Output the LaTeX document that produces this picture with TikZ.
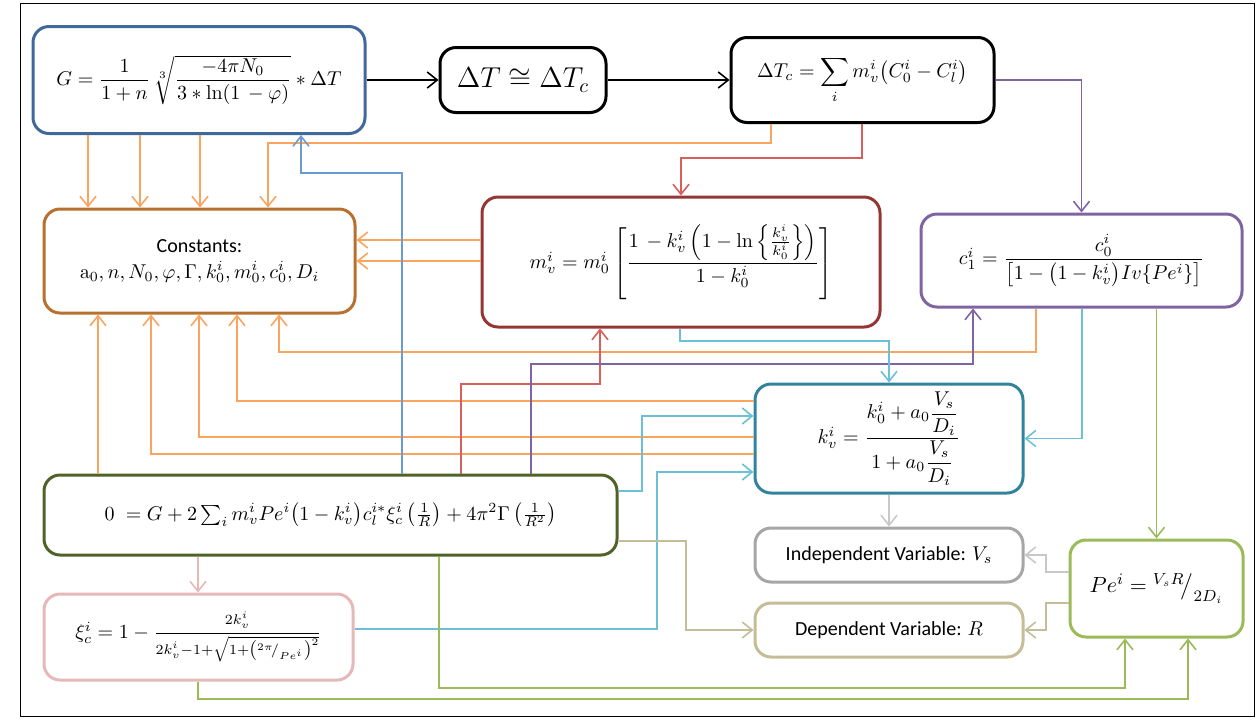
\documentclass[tikz,border=0pt]{standalone}
\usepackage[no-math]{fontspec}
\setmainfont{Carlito}
\usepackage{amsmath,amssymb}
\usetikzlibrary{arrows.meta}
\definecolor{gblue}{HTML}{41689B}
\definecolor{cbrown}{HTML}{B8702F}
\definecolor{mred}{HTML}{943634}
\definecolor{cpurple}{HTML}{8064A2}
\definecolor{kteal}{HTML}{31849B}
\definecolor{zolive}{HTML}{4F6228}
\definecolor{xpink}{HTML}{E6B9B8}
\definecolor{igray}{HTML}{A6A6A6}
\definecolor{dkhaki}{HTML}{C4BD97}
\definecolor{pgreen}{HTML}{9BBB59}
\definecolor{lorange}{HTML}{F9A560}
\definecolor{lblue}{HTML}{6E9AD3}
\definecolor{lred}{HTML}{D75F5C}
\definecolor{lteal}{HTML}{6BC0D8}
\definecolor{lgray}{HTML}{C8C8C8}
\tikzset{
  eqbox/.style={draw=#1,line width=1.5pt,rounded corners=8pt,fill=white,align=center,inner sep=0pt},
  wire/.style={draw=#1,line width=.8pt,->},
  >={Straight Barb[length=5pt,width=8pt]}
}

\begin{document}
\begin{tikzpicture}[x=0.5pt,y=-0.5pt]
  \useasboundingbox (0,0) rectangle (1257,719);
  \draw[line width=.5pt] (20,3) rectangle (1254,716);

  % boxes
  \node[eqbox=gblue,minimum width=166pt,minimum height=53.5pt] (g) at (199,80)
    {$G=\dfrac{1}{1+n}\,\sqrt[3]{\dfrac{-4\pi N_0}{3\ast\ln(1\,-\varphi)}}\ast\Delta T$};
  \node[eqbox=black,minimum width=83pt,minimum height=32.5pt] (dt) at (523,80)
    {\fontsize{14.5}{17}\selectfont$\Delta T\cong\Delta T_c$};
  \node[eqbox=black,minimum width=131.5pt,minimum height=42.5pt] (dtc) at (862.5,80)
    {$\displaystyle\Delta T_c=\sum_i m_v^i\bigl(C_0^i-C_l^i\bigr)$};
  \node[eqbox=cbrown,minimum width=155.5pt,minimum height=52pt] (cst) at (199.5,261)
    {Constants:\\[1pt] $\mathrm{a}_0,n,N_0,\varphi,\Gamma,k_0^i,m_0^i,c_0^i,D_i$};
  \node[eqbox=mred,minimum width=199pt,minimum height=65pt] (mv) at (681,262)
    {$m_v^i=m_0^i\left[\dfrac{1\,-k_v^i\left(1-\ln\left\{\frac{k_v^i}{k_0^i}\right\}\right)}{1-k_0^i}\right]$};
  \node[eqbox=cpurple,minimum width=160.5pt,minimum height=46.5pt] (c1) at (1081.5,260.5)
    {$c_1^i=\dfrac{c_0^i}{\bigl[1-\bigl(1-k_v^i\bigr)Iv\{Pe^i\}\bigr]}$};
  \node[eqbox=kteal,minimum width=134pt,minimum height=54.5pt] (kv) at (889,438.5)
    {$k_v^i=\dfrac{k_0^i+a_0\dfrac{V_s}{D_i}}{1+a_0\dfrac{V_s}{D_i}}$};
  \node[eqbox=zolive,minimum width=286.5pt,minimum height=40pt] (zero) at (330.5,515)
    {$0\;=G+2\sum_i m_v^iPe^i\bigl(1-k_v^i\bigr)c_l^{i*}\xi_c^i\left(\frac{1}{R}\right)+4\pi^2\Gamma\left(\frac{1}{R^2}\right)$};
  \node[eqbox=xpink,minimum width=154.5pt,minimum height=43pt] (xi) at (198.5,637)
    {$\xi_c^i=1-\dfrac{\scriptstyle 2k_v^i}{\scriptstyle 2k_v^i-1+\sqrt{1+\left({}^{2\pi}\!/_{Pe^i}\right)^2}}$};
  \node[eqbox=igray,minimum width=134pt,minimum height=27pt] (ind) at (889,555)
    {Independent Variable: $V_s$};
  \node[eqbox=dkhaki,minimum width=134pt,minimum height=27pt] (dep) at (889,630)
    {Dependent Variable: $R$};
  \node[eqbox=pgreen,minimum width=86.5pt,minimum height=48.5pt] (pe) at (1156.5,588.5)
    {\fontsize{11}{13}\selectfont$Pe^i={}^{V_sR}\!\big/_{2D_i}$};

  % top row
  \draw[wire=black] (g.east) -- (dt.west);
  \draw[wire=black] (dt.east) -- (dtc.west);
  \draw[wire=cpurple] (dtc.east) -| (c1.north);
  \draw[wire=lorange] (dtc.south -| 771,0) -- (771,143) -| (cst.north -| 268,0);
  \draw[wire=lred] (dtc.south -| 862,0) -- (862,158) -| (mv.north);
  \foreach \cx in {88,140,200}
    \draw[wire=lorange] (g.south -| \cx,0) -- (cst.north -| \cx,0);
  \foreach \cy in {240,261}
    \draw[wire=lorange] (mv.west |- 0,\cy) -- (cst.east |- 0,\cy);

  % into constants from below
  \draw[wire=lorange] (zero.north -| 98,0) -- (cst.south -| 98,0);
  \draw[wire=lorange] (kv.west |- 0,401) -| (cst.south -| 237,0);
  \draw[wire=lorange] (kv.west |- 0,437) -| (cst.south -| 199,0);
  \draw[wire=lorange] (kv.west |- 0,454) -| (cst.south -| 151,0);
  \draw[wire=lorange] (c1.south -| 1036,0) -- (1036,352) -| (cst.south -| 279,0);

  % from the balance equation
  \draw[wire=lblue] (zero.north -| 402,0) -- (402,173) -| (g.south -| 301,0);
  \draw[wire=lred] (zero.north -| 461,0) -- (461,384) -| (mv.south -| 600,0);
  \draw[wire=cpurple] (zero.north -| 531,0) -- (531,364) -| (c1.south -| 973,0);
  \draw[wire=lteal] (zero.east |- 0,491) -- (642,491) |- (kv.west |- 0,416);
  \draw[wire=lteal] (xi.east |- 0,629) -- (657,629) |- (kv.west |- 0,472);
  \draw[wire=lteal] (mv.south -| 680,0) -- (680,341) -| (kv.north);
  \draw[wire=lteal] (c1.south -| 1082,0) |- (kv.east);
  \draw[wire=xpink] (zero.south -| 198,0) -- (xi.north -| 198,0);
  \draw[wire=dkhaki] (zero.east |- 0,541) -- (686,541) |- (dep.west);
  \draw[wire=lgray] (kv.south) -- (ind.north);

  % into and out of the Peclet box
  \draw[wire=pgreen] (c1.south -| pe.north) -- (pe.north);
  \draw[wire=pgreen] (zero.south -| 439,0) -- (439,688) -| (pe.south -| 1125,0);
  \draw[wire=pgreen] (xi.south -| 198,0) -- (198,699) -| (pe.south -| 1188,0);
  \draw[wire=lgray] (pe.west |- 0,572) -- (1046,572) |- (ind.east);
  \draw[wire=dkhaki] (pe.west |- 0,603) -- (1046,603) |- (dep.east);
\end{tikzpicture}
\end{document}
